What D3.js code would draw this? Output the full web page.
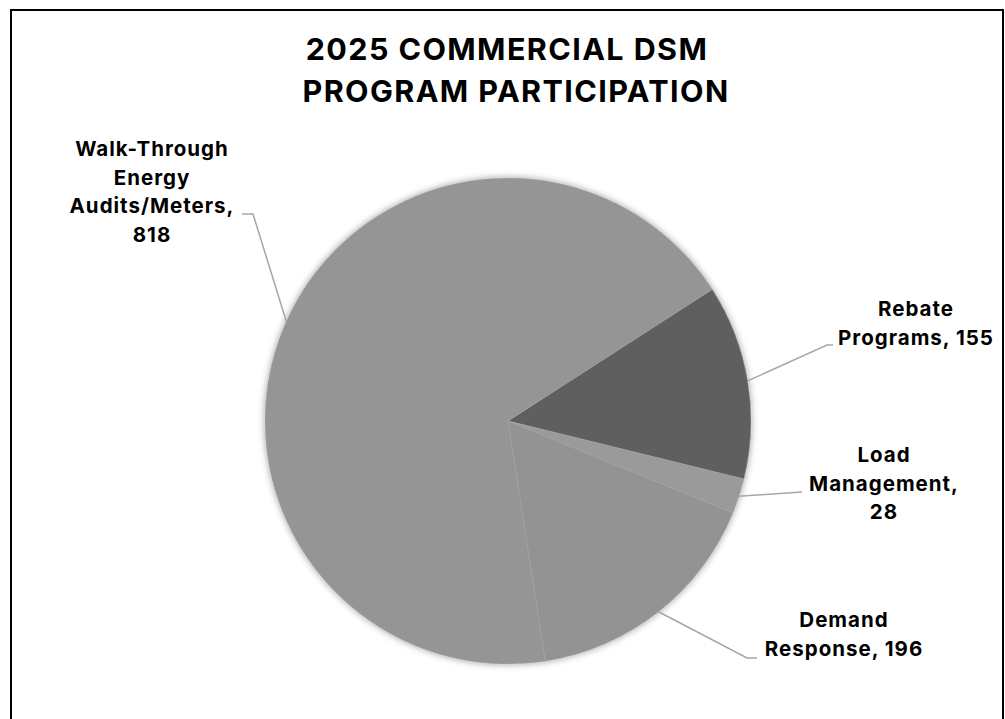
<!DOCTYPE html>
<html>
<head>
<meta charset="utf-8">
<script src="https://cdn.jsdelivr.net/npm/d3@7"></script>
<style>
  html, body { margin: 0; padding: 0; background: #fff; }
  svg { display: block; }
  text { font-family: "Inter", "Roboto", sans-serif; font-weight: 700; fill: #000; }
</style>
</head>
<body>
<svg id="chart" width="1005" height="719"></svg>
<script>
// Participation counts by commercial DSM program, 2025
const programs = ["Rebate Programs", "Load Management", "Demand Response", "Walk-Through Energy Audits/Meters"];
const participants = [155, 28, 196, 818];
const sliceColors = ["#5e5e5e", "#9a9a9a", "#939393", "#959595"];
const titleLines = ["2025 COMMERCIAL DSM", "PROGRAM PARTICIPATION"];

// Label text lines for each slice (name lines, then value placement)
const nameLines = [["Rebate", "Programs"], ["Load", "Management"], ["Demand", "Response"], ["Walk-Through", "Energy", "Audits/Meters"]];
const valueOnOwnLine = [false, true, false, true];

// Label layout: text centre, first baseline, leader elbow and end
const labelLayout = [
  { x: 916, y: 316, elbow: [827, 345], end: [833, 345] },
  { x: 884, y: 462, elbow: [802, 492], end: [802, 492] },
  { x: 844, y: 627, elbow: [747, 658], end: [757, 658] },
  { x: 152, y: 156, elbow: [253, 214], end: [242, 214] }
];
const titleCentres = [507, 516];

const svg = d3.select("#chart");
const H = 719;
const cx = 508, cy = 421, R = 243;
const lineGap = 28.5;

// chart frame
svg.append("rect")
  .attr("x", 11).attr("y", 10)
  .attr("width", 992).attr("height", H + 20)
  .attr("fill", "#fff").attr("stroke", "#000").attr("stroke-width", 2);

// soft shadow behind the pie
const defs = svg.append("defs");
const f = defs.append("filter").attr("id", "pieShadow")
  .attr("x", "-10%").attr("y", "-10%").attr("width", "120%").attr("height", "120%");
f.append("feDropShadow").attr("dx", 0).attr("dy", 0)
  .attr("stdDeviation", 3.5).attr("flood-color", "#000").attr("flood-opacity", 0.4);

// title
svg.append("text")
  .attr("text-anchor", "middle")
  .style("font-size", "30.5px")
  .style("letter-spacing", "1.4px")
  .selectAll("tspan").data(titleLines).join("tspan")
  .attr("x", (d, i) => titleCentres[i]).attr("y", (d, i) => 60 + i * 42)
  .text(d => d);

const data = programs.map((p, i) => ({ name: p, value: participants[i], color: sliceColors[i], i }));

const startDeg = 57.2;
const pie = d3.pie().value(d => d.value).sort(null)
  .startAngle(startDeg * Math.PI / 180)
  .endAngle(startDeg * Math.PI / 180 + 2 * Math.PI);
const arcs = pie(data);
const arc = d3.arc().innerRadius(0).outerRadius(R);

const g = svg.append("g").attr("transform", `translate(${cx},${cy})`);
g.append("g").attr("filter", "url(#pieShadow)")
  .selectAll("path").data(arcs).join("path")
  .attr("d", arc)
  .attr("fill", d => d.data.color)
  .attr("stroke", "#a8a8a8").attr("stroke-width", 0.4);

// leader lines and labels
arcs.forEach((a, i) => {
  const L = labelLayout[i];
  const mid = (a.startAngle + a.endAngle) / 2;
  const px = cx + R * Math.sin(mid), py = cy - R * Math.cos(mid);
  svg.append("polyline")
    .attr("points", [[px, py], L.elbow, L.end].map(p => p.join(",")).join(" "))
    .attr("fill", "none").attr("stroke", "#a6a6a6").attr("stroke-width", 1.5);

  const lines = nameLines[i].slice();
  const last = lines.length - 1;
  if (valueOnOwnLine[i]) {
    lines[last] = lines[last] + ",";
    lines.push(String(a.data.value));
  } else {
    lines[last] = lines[last] + ", " + a.data.value;
  }
  svg.append("text")
    .attr("text-anchor", "middle")
    .style("font-size", "20.5px")
    .style("letter-spacing", "1px")
    .selectAll("tspan").data(lines).join("tspan")
    .attr("x", L.x).attr("y", (d, k) => L.y + k * lineGap)
    .text(d => d);
});
</script>
</body>
</html>
